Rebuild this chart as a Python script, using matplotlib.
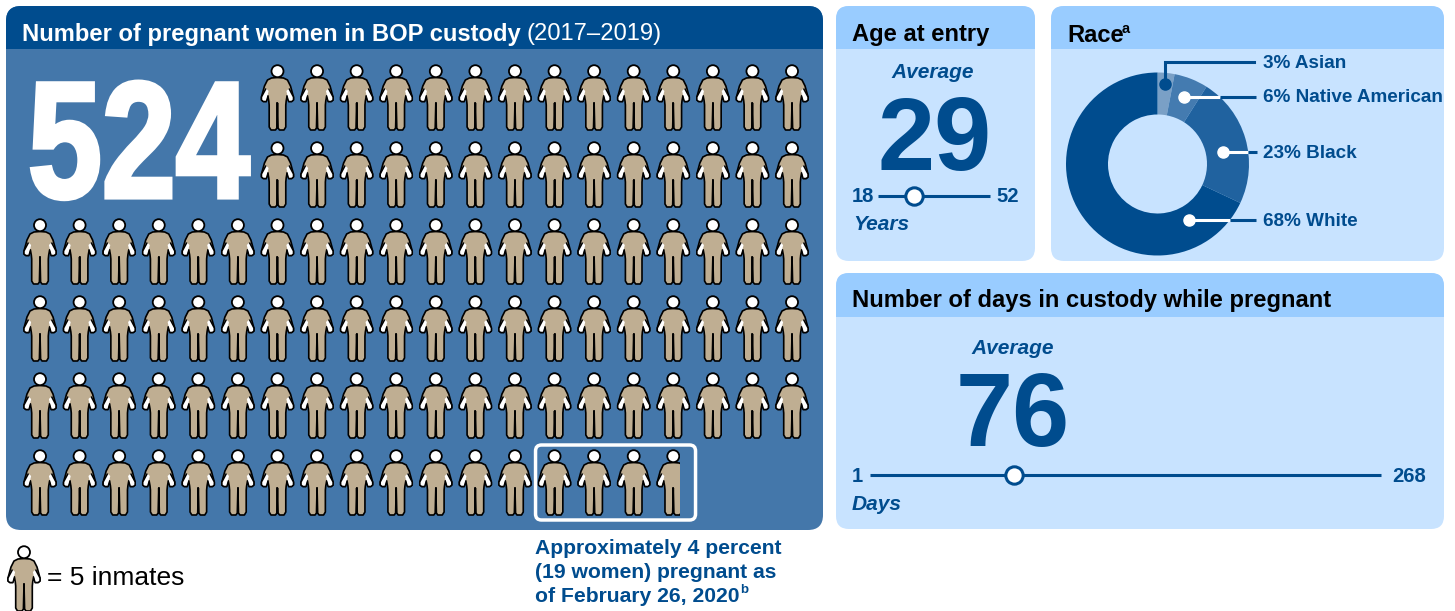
import matplotlib
matplotlib.use("Agg")
import matplotlib.pyplot as plt
from matplotlib.patches import FancyBboxPatch, Rectangle, Polygon, Circle, PathPatch
from matplotlib.font_manager import FontProperties
from matplotlib.text import Text, TextPath
from matplotlib.transforms import Affine2D, Bbox, IdentityTransform

plt.rcParams['font.family'] = ['Liberation Sans', 'DejaVu Sans']

# Data
total_pregnant = 524
inmates_per_icon = 5
icons_per_row = [14, 14, 20, 20, 20, 17]
first_column = [6, 6, 0, 0, 0, 0]
highlighted_icons = 4

race_labels = ['Asian', 'Native American', 'Black', 'White']
race_shares = [3, 6, 23, 68]
race_colors = ['#7aa0c6', '#447bb0', '#20629f', '#004c8e']
race_label_y = [64, 98, 153, 221]

age_range = (18, 52)
age_average = 29
days_range = (1, 268)
days_average = 76

NAVY = '#004c8e'
MID_BLUE = '#4477aa'
LIGHT_HEAD = '#99ccff'
LIGHT_BODY = '#c8e3ff'
TAN = '#bfae92'
TITLE_SIZE = 17.1

fig = plt.figure(figsize=(14.55, 6.11), dpi=100, facecolor='white')
ax = fig.add_axes([0, 0, 1, 1], zorder=0)
ax.set_xlim(0, 1455)
ax.set_ylim(611, 0)
ax.axis('off')


class CondensedText(Text):
    """Text drawn with its glyphs squeezed horizontally and slightly emboldened."""

    def __init__(self, x, y, text, px_size, x_scale, embolden, **kwargs):
        super().__init__(x, y, text, **kwargs)
        self.px_size = px_size
        self.x_scale = x_scale
        self.embolden = embolden

    def _outline(self):
        prop = FontProperties(family='Liberation Sans', weight='bold')
        glyphs = TextPath((0, 0), self.get_text(), size=self.px_size, prop=prop)
        px, py = self.axes.transData.transform((self.get_position()))
        place = Affine2D().scale(self.x_scale, 1).translate(px, py)
        return glyphs.transformed(place)

    def get_window_extent(self, renderer=None, dpi=None):
        return Bbox(self._outline().get_extents())

    def draw(self, renderer):
        patch = PathPatch(self._outline(), fc=self.get_color(), ec=self.get_color(), lw=self.embolden,
                          transform=IdentityTransform())
        patch.set_figure(self.get_figure())
        patch.draw(renderer)


def panel(x0, y0, x1, y1, header_bottom, head_color, body_color, radius=13):
    box = FancyBboxPatch((x0 + radius, y0 + radius), x1 - x0 - 2 * radius, y1 - y0 - 2 * radius,
                         boxstyle=f'round,pad={radius},rounding_size={radius}',
                         fc=body_color, ec='none', zorder=1)
    ax.add_patch(box)
    head = Rectangle((x0, y0), x1 - x0, header_bottom - y0, fc=head_color, ec='none', zorder=1.1)
    ax.add_patch(head)
    head.set_clip_path(box)


panel(6, 6, 823, 530, 49, NAVY, MID_BLUE, 15)
panel(836, 6, 1035, 261, 49, LIGHT_HEAD, LIGHT_BODY)
panel(1051, 6, 1444, 261, 49, LIGHT_HEAD, LIGHT_BODY)
panel(836, 273, 1444, 529, 317, LIGHT_HEAD, LIGHT_BODY)

# Half outline of the figure icon, offsets from the centre line and the top of the head
HALF_BODY = [(0, 12.5), (6, 13), (10, 15), (13, 21), (16, 32), (16, 35), (14.2, 36.5), (11.2, 36.5),
             (9.6, 31), (8.7, 36), (8.3, 40), (8.3, 62), (6.5, 65), (2, 65), (0.6, 63), (0, 38)]
HALF_ARM = [(11.5, 23.5), (16, 32), (16, 35), (14.2, 36.5), (11.2, 36.5), (8.9, 26)]


def person(cx, top, clip_right=None):
    right = [(cx + dx, top + dy) for dx, dy in HALF_BODY]
    left = [(cx - dx, top + dy) for dx, dy in reversed(HALF_BODY)]
    parts = [
        Polygon(right + left, closed=True, fc=TAN, ec='black', lw=1.2, joinstyle='round', zorder=3),
        Polygon([(cx + dx, top + dy) for dx, dy in HALF_ARM], closed=True, fc='white', ec='none', zorder=3.1),
        Polygon([(cx - dx, top + dy) for dx, dy in HALF_ARM], closed=True, fc='white', ec='none', zorder=3.1),
        Circle((cx, top + 6.2), 6.0, fc='white', ec='black', lw=1.3, zorder=3.2),
    ]
    for side in (1, -1):
        outer = [(cx + side * dx, top + dy) for dx, dy in HALF_ARM[:5]]
        parts.append(Polygon(outer, closed=False, fc='none', ec='black', lw=1.1,
                             joinstyle='round', zorder=3.15))
        parts.append(plt.Line2D([cx + side * 9.6, cx + side * 11.2], [top + 31, top + 36.5],
                                color='black', lw=0.9, zorder=3.15))
    parts.append(plt.Line2D([cx, cx], [top + 38, top + 63], color='black', lw=1.2, zorder=3.15))
    for p in parts:
        if isinstance(p, plt.Line2D):
            ax.add_line(p)
        else:
            ax.add_patch(p)
        if clip_right is not None:
            p.set_clip_path(Rectangle((cx - 30, top - 5), clip_right - cx + 30, 80, transform=ax.transData))


# Pictogram: one figure per five inmates; the last one is only partly filled
col_x0, col_step = 40.0, 39.58
row_tops = [65, 142, 219, 296, 373, 450]
remainder = total_pregnant / inmates_per_icon - total_pregnant // inmates_per_icon
for r, (count, start) in enumerate(zip(icons_per_row, first_column)):
    for c in range(count):
        cx = col_x0 + col_step * (start + c)
        last = r == len(icons_per_row) - 1 and c == count - 1
        person(cx, row_tops[r], cx + (remainder - 0.5) * 22 if last else None)

# Outline around the figures for women pregnant on the later date
first_hi = col_x0 + col_step * (icons_per_row[-1] - highlighted_icons)
ax.add_patch(FancyBboxPatch((first_hi - 13, 451), 148, 63, boxstyle='round,pad=6,rounding_size=6',
                            fc='none', ec='white', lw=2.5, zorder=3.5))

# Legend figure
person(24, 546)
ax.text(47, 578, '= 5 inmates', fontsize=19, color='black', va='center', ha='left')

# Panel titles
ax.text(22, 34, 'Number of pregnant women in BOP custody', fontsize=TITLE_SIZE, fontweight='bold',
        color='white', va='center', zorder=4)
ax.text(526, 34, '(2017–2019)', fontsize=TITLE_SIZE, color='white', va='center', zorder=4)
ax.text(852, 34, 'Age at entry', fontsize=TITLE_SIZE, fontweight='bold', color='black', va='center', zorder=4)
ax.text(1067, 35, 'Race', fontsize=TITLE_SIZE, fontweight='bold', color='black', va='center', zorder=4)
ax.text(1122, 29, 'a', fontsize=10.5, fontweight='bold', color='black', va='center', zorder=4)
ax.text(852, 300, 'Number of days in custody while pregnant', fontsize=TITLE_SIZE, fontweight='bold',
        color='black', va='center', zorder=4)

# Headline count
headline = CondensedText(28, 197.5, str(total_pregnant), px_size=166, x_scale=0.80, embolden=3,
                         color='white', zorder=4)
ax.add_artist(headline)


def slider(x0, x1, y, vrange, value):
    ax.plot([x0, x1], [y, y], color=NAVY, lw=2.2, zorder=4, solid_capstyle='butt')
    pos = x0 + (value - vrange[0]) / (vrange[1] - vrange[0]) * (x1 - x0)
    ax.plot([pos], [y], 'o', ms=12.5, mfc='white', mec=NAVY, mew=2.2, zorder=5)


# Age panel
ax.text(933, 72, 'Average', fontsize=15, fontweight='bold', style='italic', color=NAVY,
        ha='center', va='center', zorder=4)
ax.text(935, 170, str(age_average), fontsize=74, fontweight='bold', color=NAVY, ha='center',
        va='baseline', zorder=4)
slider(878, 990, 196, age_range, age_average)
ax.text(852, 196, str(age_range[0]), fontsize=14.5, fontweight='bold', color=NAVY, va='center', zorder=4)
ax.text(996, 196, str(age_range[1]), fontsize=14.5, fontweight='bold', color=NAVY, va='center', zorder=4)
ax.text(853, 224, 'Years', fontsize=15, fontweight='bold', style='italic', color=NAVY, va='center', zorder=4)

# Days panel
ax.text(1013, 348, 'Average', fontsize=15, fontweight='bold', style='italic', color=NAVY,
        ha='center', va='center', zorder=4)
ax.text(1013, 446, str(days_average), fontsize=74, fontweight='bold', color=NAVY, ha='center',
        va='baseline', zorder=4)
slider(870, 1381, 475, days_range, days_average)
ax.text(852, 476, str(days_range[0]), fontsize=14.5, fontweight='bold', color=NAVY, va='center', zorder=4)
ax.text(1392, 476, str(days_range[1]), fontsize=14.5, fontweight='bold', color=NAVY, va='center', zorder=4)
ax.text(852, 504, 'Days', fontsize=15, fontweight='bold', style='italic', color=NAVY, va='center', zorder=4)

# Note under the pictogram
note_lines = ['Approximately 4 percent', '(19 women) pregnant as', 'of February 26, 2020']
for line, y in zip(note_lines, [549, 573, 596]):
    ax.text(535, y, line, fontsize=15.2, fontweight='bold', color=NAVY, va='center')
ax.text(740, 590, 'b', fontsize=9.5, fontweight='bold', color=NAVY, va='center')

# Race donut
cx, cy, rad = 1157.5, 164.0, 91.5
pie_ax = fig.add_axes([(cx - rad) / 1455, 1 - (cy + rad) / 611, 2 * rad / 1455, 2 * rad / 611], zorder=1)
pie_ax.pie(race_shares, colors=race_colors, startangle=90, counterclock=False, radius=1,
           wedgeprops=dict(width=0.459, linewidth=0))
pie_ax.set_xlim(-1, 1)
pie_ax.set_ylim(-1, 1)

# Leader lines and labels sit above the donut
over = fig.add_axes([0, 0, 1, 1], zorder=2)
over.set_xlim(0, 1455)
over.set_ylim(611, 0)
over.axis('off')

over.plot([1164.7, 1164.7, 1254], [84, 62, 62], color=NAVY, lw=2.2, solid_joinstyle='miter')
over.plot([1164.7], [84], 'o', ms=8, color=NAVY)
for dot_x, y, white_end, dark_end in [(1184, 97, 1220, 1256), (1223, 152, 1248, 1257), (1189, 220, 1230, 1256)]:
    over.plot([dot_x, white_end], [y, y], color='white', lw=2.2, solid_capstyle='butt')
    over.plot([white_end, dark_end], [y, y], color=NAVY, lw=2.2, solid_capstyle='butt')
    over.plot([dot_x], [y], 'o', ms=8, color='white')
for label, share, y in zip(race_labels, race_shares, race_label_y):
    over.text(1263, y, f'{share}% {label}', fontsize=13.55, fontweight='bold', color=NAVY, va='center')

fig.savefig('out.png', dpi=100, facecolor='white')
